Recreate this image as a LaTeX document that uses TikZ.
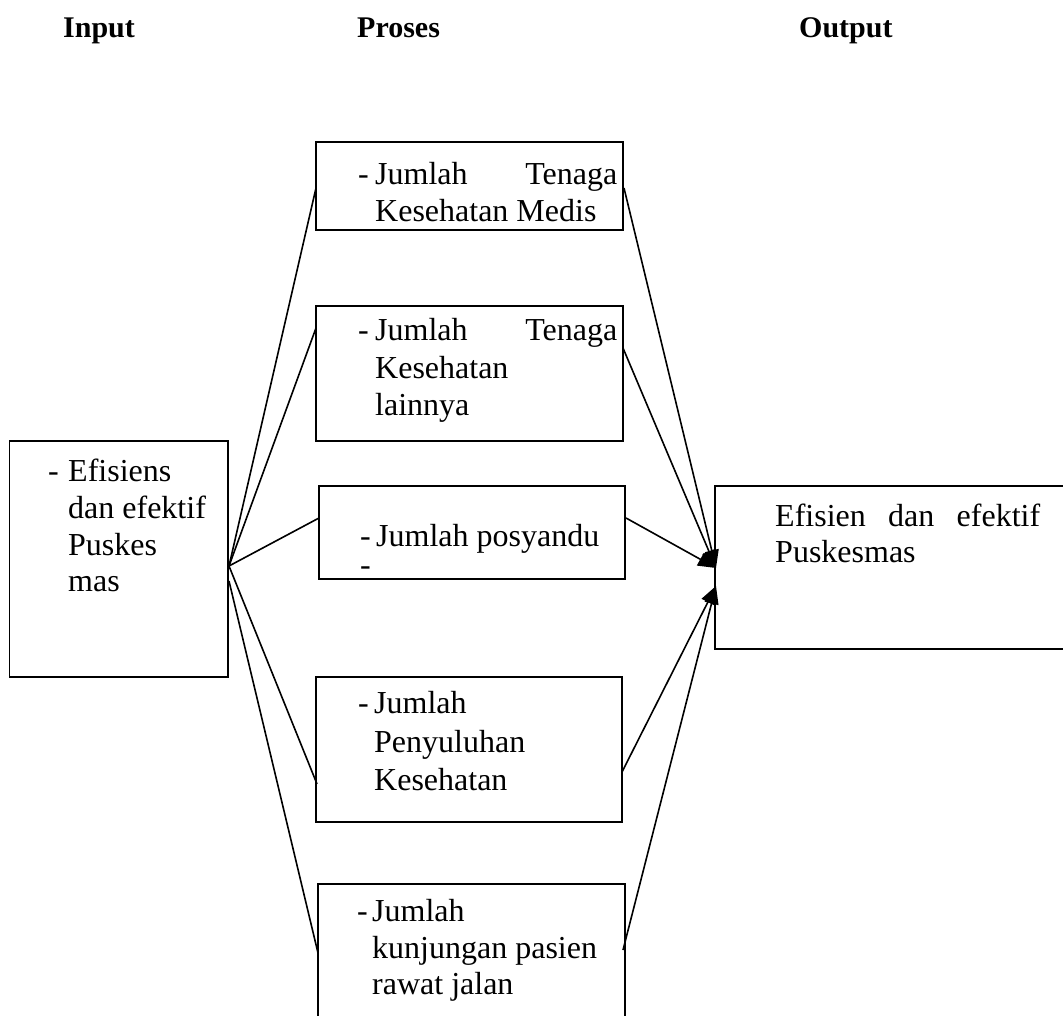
\documentclass[tikz,border=0pt]{standalone}
\usepackage{fontspec}
\setmainfont{Liberation Serif}
\usetikzlibrary{arrows.meta}
\begin{document}
\begin{tikzpicture}[x=1pt,y=-1pt,
  box/.style={draw,line width=1.6pt,rectangle,inner sep=0},
  conn/.style={line width=1.6pt},
  arr/.style={line width=1.6pt,-{Triangle[length=18pt,width=14pt]}},
  txt/.style={anchor=base west,inner sep=0,font=\fontsize{32}{37}\selectfont},
  hdr/.style={anchor=base west,inner sep=0,font=\fontsize{30}{36}\selectfont\bfseries}]
\useasboundingbox (0,0) rectangle (1063,1016);
\clip (0,0) rectangle (1063,1016);
% headers
\node[hdr] (hin) at (63,38) {Input};
\node[hdr] (hpr) at (357,38) {Proses};
\node[hdr] (hout) at (799,38) {Output};
% boxes
\node[box,minimum width=218.5pt,minimum height=236pt] (L) at (118.75,559) {};
\node[box,minimum width=307pt,minimum height=88pt] (B1) at (469.5,186) {};
\node[box,minimum width=307pt,minimum height=135pt] (B2) at (469.5,373.5) {};
\node[box,minimum width=306pt,minimum height=93pt] (B3) at (472,532.5) {};
\node[box,minimum width=306pt,minimum height=145pt] (B4) at (469,749.5) {};
\node[box,minimum width=307pt,minimum height=160pt] (B5) at (471.5,964) {};
\node[box,minimum width=370pt,minimum height=163pt] (O) at (900,567.5) {};
% left box text
\node[txt] (l0) at (48,481) {-};
\node[txt] (l1) at (68,481) {Efisiens};
\node[txt] (l2) at (68,518) {dan efektif};
\node[txt] (l3) at (68,555) {Puskes};
\node[txt] (l4) at (68,591) {mas};
% box 1
\node[txt] (a0) at (358,185) {-};
\node[txt] (a1) at (375,185) {\hbox to 242pt{Jumlah\hfill Tenaga}};
\node[txt] (a2) at (375,222) {Kesehatan Medis};
% box 2
\node[txt] (b0) at (358,341) {-};
\node[txt] (b1) at (375,341) {\hbox to 242pt{Jumlah\hfill Tenaga}};
\node[txt] (b2) at (375,378) {Kesehatan};
\node[txt] (b3) at (375,415) {lainnya};
% box 3
\node[txt] (c0) at (360,546) {-};
\node[txt] (c1) at (376,546) {Jumlah posyandu};
\node[txt] (c2) at (360,575) {-};
% box 4
\node[txt] (d0) at (358,713) {-};
\node[txt] (d1) at (374,713) {Jumlah};
\node[txt] (d2) at (374,752) {Penyuluhan};
\node[txt] (d3) at (374,790) {Kesehatan};
% box 5
\node[txt] (e0) at (357,921) {-};
\node[txt] (e1) at (372,921) {Jumlah};
\node[txt] (e2) at (372,958) {kunjungan pasien};
\node[txt] (e3) at (372,994) {rawat jalan};
% output text
\node[txt] (o1) at (775,526) {\hbox to 265pt{Efisien\hfill dan\hfill efektif}};
\node[txt] (o2) at (775,562) {Puskesmas};
% connector end points
\coordinate (sA) at (229,566);
\coordinate (sB) at (229,581);
\coordinate (in1) at (316,188);
\coordinate (in2) at (316,328);
\coordinate (in3) at (319,518);
\coordinate (in4) at (317,784);
\coordinate (in5) at (318,953);
\coordinate (out1) at (624,188);
\coordinate (out2) at (623,348);
\coordinate (out3) at (626,518);
\coordinate (out4) at (622,772);
\coordinate (out5) at (623,950);
\coordinate (tU) at (716,568);
\coordinate (tL) at (716,586);
% left connectors
\draw[conn] (sA) -- (in1);
\draw[conn] (sA) -- (in2);
\draw[conn] (sA) -- (in3);
\draw[conn] (sA) -- (in4);
\draw[conn] (sB) -- (in5);
% right connectors
\draw[arr] (out1) -- (tU);
\draw[arr] (out2) -- (tU);
\draw[arr] (out3) -- (tU);
\draw[arr] (out4) -- (tL);
\draw[arr] (out5) -- (tL);
\end{tikzpicture}
\end{document}
